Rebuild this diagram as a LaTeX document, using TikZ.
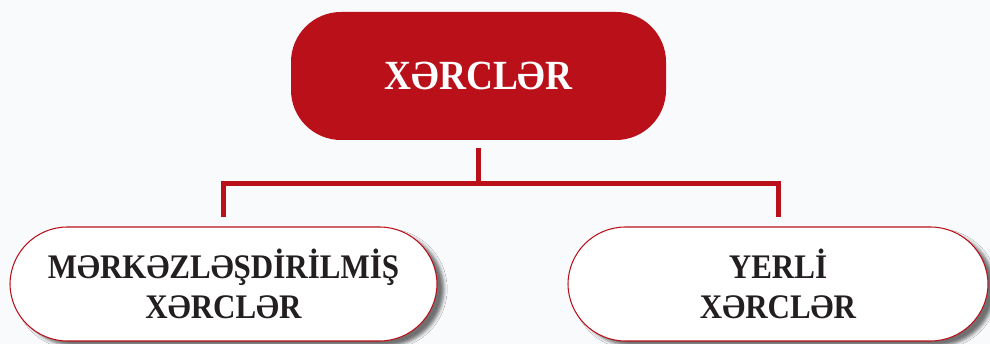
\documentclass[tikz,border=0pt]{standalone}
\usepackage{fontspec}
\setmainfont{Liberation Serif}
\newfontfamily\boxfont[FakeStretch=0.9]{Liberation Serif}
\usetikzlibrary{shadows.blur}
\definecolor{xred}{RGB}{185,16,26}
\definecolor{xbg}{RGB}{249,250,252}
\definecolor{xtext}{RGB}{35,31,32}

\begin{document}
\begin{tikzpicture}[node distance=4.16cm,
    headbox/.style={rectangle, rounded corners=1cm, fill=xred, text=white, minimum width=7.5cm, minimum height=2.56cm, font=\boxfont\bfseries\fontsize{23.6}{28}\selectfont},
    kindbox/.style={rectangle, rounded corners=1.15cm, draw=xred, line width=0.6pt, fill=white, text=xtext, align=center, minimum height=2.28cm, font=\boxfont\bfseries\fontsize{19.6}{23}\selectfont, blur shadow={shadow xshift=0.14cm, shadow yshift=-0.1cm, shadow opacity=55}},
    link/.style={draw=xred, line width=0.1cm, shorten <=0.16cm, shorten >=0.18cm}]
                \fill[xbg] (0,0) rectangle (19.8,-6.88);
                \useasboundingbox (0,0) rectangle (19.8,-6.88);
                \node[headbox] (costs) at (9.57,-1.52) {XƏRCLƏR};
                \node[kindbox, minimum width=8.54cm] (central) [below of=costs, xshift=-5.1cm] {MƏRKƏZLƏŞDİRİLMİŞ\\XƏRCLƏR};
                \node[kindbox, minimum width=8.4cm] (local) [below of=costs, xshift=5.99cm] {YERLİ\\XƏRCLƏR};

                \draw[link] (costs.south) -- ++(0,-0.86) -| (central.north);
                \draw[link] (costs.south) -- ++(0,-0.86) -| (local.north);
            \end{tikzpicture}
\end{document}
